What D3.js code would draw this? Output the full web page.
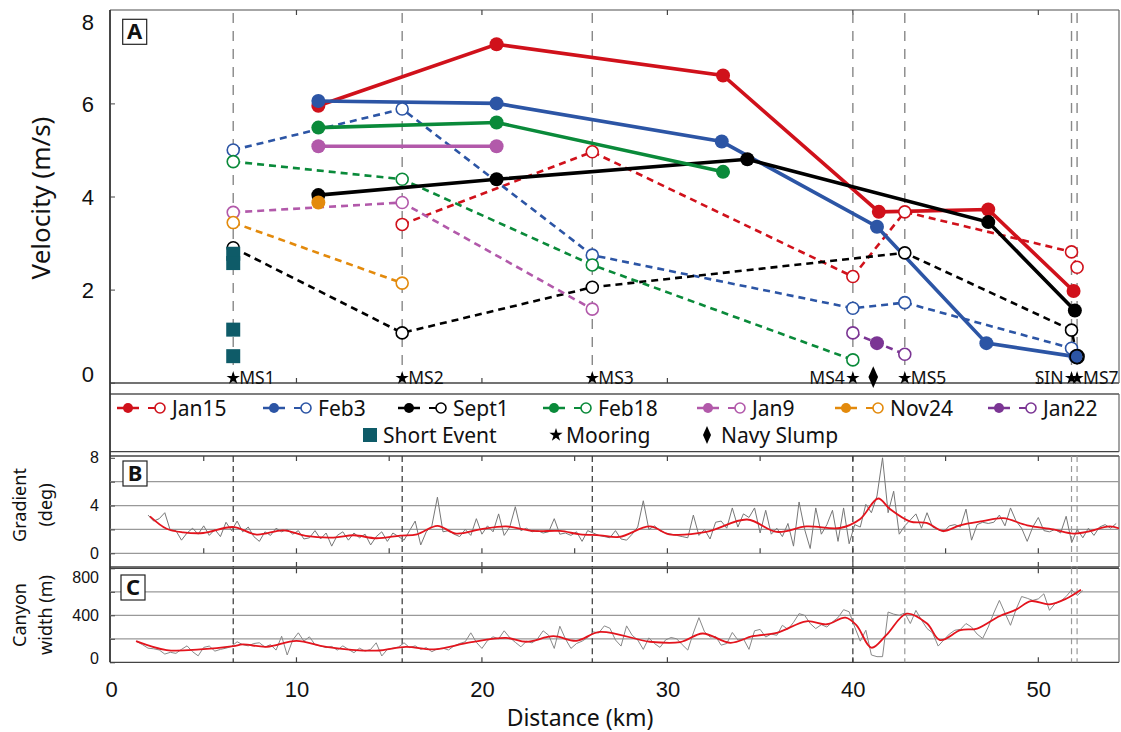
<!DOCTYPE html>
<html>
<head>
<meta charset="utf-8">
<script src="https://cdn.jsdelivr.net/npm/d3@7"></script>
<style>
  body { margin: 0; background: #fff; }
  svg { font-family: "Noto Sans", sans-serif; }
</style>
</head>
<body>
<svg id="chart" width="1121" height="732"></svg>
<script>
// --- moorings along the canyon (km)
const moorings = ["MS1", "MS2", "MS3", "MS4", "MS5", "SIN", "MS7"];
const mooringKm = [6.59, 15.70, 25.95, 40.0, 42.8, 51.79, 52.09];
const navySlumpKm = 41.1;

// --- survey names / colours
const surveys = ["Jan15", "Feb3", "Sept1", "Feb18", "Jan9", "Nov24", "Jan22"];
const surveyColors = ["#d0111b", "#2c55a5", "#000000", "#0a8a3a", "#b259aa", "#e38a0c", "#7b3594"];

// filled markers / solid lines: [km, velocity m/s]
const jan15Solid = [[11.18, 5.95], [20.79, 7.27], [33.0, 6.6], [41.4, 3.67], [47.3, 3.72], [51.9, 1.97]];
const feb3Solid = [[11.18, 6.05], [20.79, 6.0], [32.93, 5.18], [41.3, 3.35], [47.2, 0.85], [52.0, 0.56]];
const sept1Solid = [[11.18, 4.03], [20.79, 4.37], [34.31, 4.8], [47.3, 3.45], [51.97, 1.55]];
const feb18Solid = [[11.18, 5.48], [20.79, 5.59], [33.0, 4.53]];
const jan9Solid = [[11.18, 5.08], [20.79, 5.08]];
const nov24Solid = [[11.18, 3.87]];
const jan22Solid = [[41.3, 0.85]];

// open markers / dashed lines (mooring records): [km, velocity m/s]
const jan15Dashed = [[15.70, 3.40], [25.95, 4.96], [40.0, 2.28], [42.8, 3.67], [51.79, 2.81], [52.09, 2.48]];
const feb3Dashed = [[6.59, 5.0], [15.70, 5.88], [25.95, 2.74], [40.0, 1.60], [42.8, 1.72], [51.79, 0.74]];
const sept1Dashed = [[6.59, 2.9], [15.70, 1.07], [25.95, 2.05], [42.8, 2.79], [51.79, 1.13], [52.09, 0.56]];
const feb18Dashed = [[6.59, 4.75], [15.70, 4.37], [25.95, 2.53], [40.0, 0.49]];
const jan9Dashed = [[6.59, 3.66], [15.70, 3.87], [25.95, 1.58]];
const nov24Dashed = [[6.59, 3.44], [15.70, 2.14]];
const jan22Dashed = [[40.0, 1.07], [42.8, 0.61]];

// short events at MS1
const shortEventVel = [2.77, 2.57, 1.14, 0.57];

// --- panel B: thalweg gradient (deg), sampled every 0.3 km from 2.0 km
const gradStart = 2.0, gradStep = 0.3;
const gradient = [3.2, 2.7, 2.9, 3.4, 1.9, 1.9, 1.1, 1.7, 2.1, 1.6, 2.3, 1.5, 2.0, 1.4, 2.6, 1.9, 2.7, 1.8, 2.2, 1.4,
  1.0, 1.8, 1.5, 2.1, 1.8, 2.0, 1.6, 1.9, 1.2, 1.3, 1.9, 1.2, 1.7, 0.6, 1.5, 1.8, 1.1, 1.7, 1.3, 1.6,
  0.7, 1.4, 1.8, 1.0, 1.7, 1.4, 1.1, 1.9, 2.7, 0.7, 1.8, 2.3, 4.7, 1.8, 1.9, 1.6, 1.4, 2.0, 1.5, 2.9,
  1.6, 2.3, 1.8, 3.3, 1.5, 2.2, 3.9, 1.9, 2.1, 1.8, 1.9, 1.7, 1.8, 2.9, 1.6, 1.7, 1.5, 1.8, 1.0, 1.9,
  1.7, 1.5, 1.4, 1.3, 1.9, 1.2, 1.1, 1.6, 2.2, 4.4, 2.0, 2.3, 1.9, 1.7, 1.6, 1.5, 1.4, 1.3, 3.2, 1.5,
  2.0, 1.2, 2.6, 2.7, 2.1, 3.8, 2.2, 3.3, 3.0, 3.8, 1.7, 3.6, 1.6, 2.1, 1.4, 2.5, 0.6, 4.3, 2.0, 0.4,
  3.8, 1.6, 2.4, 3.6, 1.0, 3.8, 0.8, 2.4, 2.2, 4.1, 3.4, 4.8, 8.0, 3.4, 5.2, 1.6, 2.3, 2.8, 3.3, 2.1,
  3.4, 2.2, 2.0, 1.8, 2.3, 2.4, 2.2, 3.7, 1.1, 2.4, 2.6, 2.5, 2.6, 3.2, 2.3, 3.8, 2.7, 2.1, 1.0, 2.2,
  3.0, 1.9, 1.8, 2.0, 1.7, 3.1, 0.9, 2.0, 1.3, 2.1, 1.5, 2.2, 2.4, 2.1, 2.5];
// smoothed gradient: [km, deg]
const gradientSmooth = [[2.1, 3.1], [3.0, 2.06], [3.9, 1.76], [4.97, 1.7], [6.6, 2.2], [7.85, 1.57], [9.3, 1.92],
  [10.5, 1.46], [12.0, 1.32], [13.1, 1.51], [14.3, 1.26], [15.6, 1.48], [16.5, 1.59], [17.6, 2.3], [18.6, 1.65],
  [19.9, 2.0], [21.3, 2.25], [22.8, 1.87], [24.2, 1.87], [25.3, 1.59], [26.36, 1.51], [27.4, 1.37], [29.06, 2.25],
  [30.1, 1.59], [32.1, 1.79], [34.3, 2.83], [35.9, 1.79], [37.5, 2.25], [39.3, 2.12], [40.4, 2.88], [41.36, 4.59],
  [42.0, 3.71], [43.1, 2.66], [43.97, 2.55], [44.87, 1.87], [45.77, 2.34], [47.0, 2.69], [48.1, 2.94],
  [49.4, 2.34], [50.8, 2.0], [51.9, 1.65], [52.6, 1.79], [53.85, 2.25], [54.4, 2.06]];

// --- panel C: canyon width (m), sampled every 0.3 km from 1.4 km
const widthStart = 1.4, widthStep = 0.3;
const canyonWidth = [175, 150, 120, 115, 105, 70, 85, 76, 110, 140, 90, 55, 127, 138, 95, 110, 120, 135, 175, 150,
  140, 160, 166, 130, 150, 104, 222, 62, 190, 251, 180, 217, 150, 140, 125, 135, 104, 140, 110, 82,
  120, 95, 110, 166, 54, 110, 120, 130, 166, 125, 140, 110, 125, 90, 115, 120, 105, 140, 160, 175,
  251, 170, 118, 185, 217, 200, 268, 210, 170, 132, 180, 165, 200, 268, 230, 118, 307, 200, 118, 160,
  180, 210, 259, 250, 310, 290, 190, 138, 310, 230, 190, 110, 208, 160, 127, 190, 211, 200, 150, 104,
  250, 380, 260, 215, 220, 146, 160, 254, 190, 200, 110, 268, 280, 215, 240, 230, 315, 280, 340, 414,
  400, 330, 287, 320, 300, 344, 380, 448, 430, 300, 180, 273, 62, 48, 48, 428, 410, 400, 420, 330,
  442, 360, 287, 250, 138, 190, 240, 273, 280, 330, 300, 240, 203, 300, 420, 527, 420, 315, 450, 560,
  545, 527, 540, 583, 442, 499, 520, 560, 617, 569, 610];
const widthSmooth = [[1.35, 180], [3.0, 104], [4.8, 110], [6.6, 138], [7.1, 152], [8.4, 132], [10.0, 183],
  [11.6, 132], [14.3, 99], [15.9, 132], [17.4, 110], [19.35, 169], [21.3, 208], [22.4, 175], [23.85, 222],
  [25.1, 183], [26.36, 259], [29.06, 175], [30.7, 172], [31.9, 245], [33.4, 166], [34.6, 222], [35.9, 251],
  [37.5, 349], [38.6, 324], [39.6, 380], [40.2, 315], [41.0, 124], [41.8, 231], [42.9, 414], [44.0, 330],
  [44.7, 189], [45.8, 273], [46.7, 287], [47.9, 392], [48.8, 448], [49.6, 521], [50.6, 493], [51.5, 541], [52.3, 617]];

// ---------------------------------------------------------------
const svg = d3.select("#chart");
const L = 110, R = 1119;
const x = d3.scaleLinear().domain([0, 54.35]).range([111, 1119]);
const yA = d3.scaleLinear().domain([0, 8]).range([382.7, 10.3]);
const yB = d3.scaleLinear().domain([0, 8]).range([553.3, 457.8]);
const yC = d3.scaleLinear().domain([0, 800]).range([662.3, 568.3]);
const A = { top: 10, bottom: 383 }, B = { top: 456, bottom: 567 }, C = { top: 568.3, bottom: 662.3 };

const series = [
  [jan15Solid, jan15Dashed], [feb3Solid, feb3Dashed], [sept1Solid, sept1Dashed], [feb18Solid, feb18Dashed],
  [jan9Solid, jan9Dashed], [nov24Solid, nov24Dashed], [jan22Solid, jan22Dashed]
];

// ---- frames
function frame(p, strokeTop) {
  svg.append("line").attr("x1", L).attr("x2", R).attr("y1", p.top).attr("y2", p.top).attr("stroke", strokeTop).attr("stroke-width", 1.3);
  svg.append("line").attr("x1", L).attr("x2", R).attr("y1", p.bottom).attr("y2", p.bottom).attr("stroke", "#444").attr("stroke-width", 1.3);
  svg.append("line").attr("x1", R).attr("x2", R).attr("y1", p.top).attr("y2", p.bottom).attr("stroke", "#666").attr("stroke-width", 1.2);
}
frame(A, "#888");
frame({ top: 394, bottom: 451.7 }, "#555");
frame(B, "#444");
frame(C, "#444");
svg.append("line").attr("x1", L).attr("x2", L).attr("y1", 10).attr("y2", 662.3).attr("stroke", "#333").attr("stroke-width", 1.8);

// ---- gridlines B, C
[2, 4, 6, 0].forEach(v => svg.append("line").attr("x1", L).attr("x2", R).attr("y1", yB(v)).attr("y2", yB(v)).attr("stroke", "#999").attr("stroke-width", 1.2));
[200, 400, 600].forEach(v => svg.append("line").attr("x1", L).attr("x2", R).attr("y1", yC(v)).attr("y2", yC(v)).attr("stroke", "#999").attr("stroke-width", 1.2));

// ---- x ticks (inward)
function xTicks(vals, y0, dir) {
  svg.append("g").selectAll("line").data(vals).join("line")
    .attr("x1", d => x(d)).attr("x2", d => x(d)).attr("y1", y0).attr("y2", y0 + dir * 5)
    .attr("stroke", "#444").attr("stroke-width", 1.2);
}
const tens = [10, 20, 30, 40, 50], fives = [5, 10, 15, 20, 25, 30, 35, 40, 45, 50];
xTicks(tens, A.top, 1); xTicks(tens, A.bottom, -1);
xTicks(fives, B.top, 1); xTicks(fives, yB(0), -1); xTicks(tens, B.bottom, -1);
xTicks(tens, C.top, 1); xTicks(tens, C.bottom, -1);

// ---- y axes
const axA = svg.append("g").attr("transform", `translate(${L},0)`)
  .call(d3.axisLeft(yA).tickValues([0, 2, 4, 6, 8]).tickSize(-5).tickPadding(16));
axA.select(".domain").remove();
axA.selectAll("line").attr("stroke", "#444");
axA.selectAll("text").attr("font-size", 22).attr("fill", "#111")
  .attr("dy", d => d === 8 ? "0.85em" : d === 0 ? "-0.05em" : "0.35em");
axA.selectAll(".tick").filter(d => d === 8).select("line").remove();

const axB = svg.append("g").attr("transform", `translate(${L},0)`)
  .call(d3.axisLeft(yB).tickValues([0, 2, 4, 6, 8]).tickSize(-5).tickPadding(11).tickFormat(d => d % 4 === 0 ? d : ""));
axB.select(".domain").remove();
axB.selectAll("line").attr("stroke", "#444");
axB.selectAll("text").attr("font-size", 16).attr("fill", "#111");

const axC = svg.append("g").attr("transform", `translate(${L},0)`)
  .call(d3.axisLeft(yC).tickValues([0, 200, 400, 600, 800]).tickSize(-5).tickPadding(11).tickFormat(d => d % 400 === 0 ? d : ""));
axC.select(".domain").remove();
axC.selectAll("line").attr("stroke", "#444");
axC.selectAll("text").attr("font-size", 16).attr("fill", "#111")
  .attr("dy", d => d === 800 ? "0.9em" : d === 0 ? "0.1em" : "0.35em");

const axX = svg.append("g").attr("transform", `translate(0,681)`)
  .call(d3.axisBottom(x).tickValues([0, 10, 20, 30, 40, 50]).tickSize(0).tickPadding(0));
axX.select(".domain").remove();
axX.selectAll("text").attr("font-size", 22).attr("fill", "#111");

// ---- axis titles
svg.append("text").attr("transform", "translate(50,198) rotate(-90)").attr("text-anchor", "middle")
  .attr("font-size", 26).attr("fill", "#111").text("Velocity (m/s)");
svg.append("text").attr("transform", "translate(26,505) rotate(-90)").attr("text-anchor", "middle")
  .attr("font-size", 18).attr("fill", "#111").text("Gradient");
svg.append("text").attr("transform", "translate(52,505) rotate(-90)").attr("text-anchor", "middle")
  .attr("font-size", 18).attr("fill", "#111").text("(deg)");
svg.append("text").attr("transform", "translate(26,615) rotate(-90)").attr("text-anchor", "middle")
  .attr("font-size", 18).attr("fill", "#111").text("Canyon");
svg.append("text").attr("transform", "translate(52,615) rotate(-90)").attr("text-anchor", "middle")
  .attr("font-size", 18).attr("fill", "#111").text("width (m)");
svg.append("text").attr("x", 580).attr("y", 726).attr("text-anchor", "middle")
  .attr("font-size", 23).attr("fill", "#111").text("Distance (km)");

// ---- mooring dashed verticals
mooringKm.forEach((km, i) => {
  svg.append("line").attr("x1", x(km)).attr("x2", x(km)).attr("y1", A.top + 3).attr("y2", A.bottom)
    .attr("stroke", "#888").attr("stroke-width", 1.4).attr("stroke-dasharray", "10,8");
  const dark = i <= 3;
  [B, C].forEach(p => svg.append("line").attr("x1", x(km)).attr("x2", x(km)).attr("y1", p.top).attr("y2", p.bottom)
    .attr("stroke", dark ? "#333" : "#999").attr("stroke-width", 1.2).attr("stroke-dasharray", "6,4"));
});

// ---- panel A lines
const lineA = d3.line().x(d => x(d[0])).y(d => yA(d[1]));
series.forEach(([solid, dashed], i) => {
  if (dashed.length > 1) svg.append("path").attr("d", lineA(dashed)).attr("fill", "none")
    .attr("stroke", surveyColors[i]).attr("stroke-width", 2.6).attr("stroke-dasharray", "7,5");
});
series.forEach(([solid, dashed], i) => {
  if (solid.length > 1) svg.append("path").attr("d", lineA(solid)).attr("fill", "none")
    .attr("stroke", surveyColors[i]).attr("stroke-width", 3.6);
});
series.forEach(([solid, dashed], i) => {
  svg.append("g").selectAll("circle").data(dashed).join("circle")
    .attr("cx", d => x(d[0])).attr("cy", d => yA(d[1])).attr("r", 6)
    .attr("fill", "#fff").attr("stroke", surveyColors[i]).attr("stroke-width", 1.6);
});
series.forEach(([solid, dashed], i) => {
  svg.append("g").selectAll("circle").data(solid).join("circle")
    .attr("cx", d => x(d[0])).attr("cy", d => yA(d[1])).attr("r", 7)
    .attr("fill", surveyColors[i]);
});
// black open ring around Feb3 end at MS7
svg.append("circle").attr("cx", x(sept1Dashed[5][0])).attr("cy", yA(sept1Dashed[5][1])).attr("r", 7)
  .attr("fill", "none").attr("stroke", "#000").attr("stroke-width", 1.6);

// short events
svg.append("g").selectAll("rect").data(shortEventVel).join("rect")
  .attr("x", x(mooringKm[0]) - 7).attr("y", d => yA(d) - 7).attr("width", 14).attr("height", 14)
  .attr("fill", "#0e5b68");

// moorings stars + labels
const star = d3.symbol().type(d3.symbolStar).size(55);
mooringKm.forEach((km, i) => {
  svg.append("path").attr("d", star()).attr("transform", `translate(${x(km)},${yA(0.1)})`).attr("fill", "#000");
  const left = moorings[i] === "MS4" || moorings[i] === "SIN";
  svg.append("text").attr("x", x(km) + (left ? -8 : 6)).attr("y", 384)
    .attr("text-anchor", left ? "end" : "start").attr("font-size", 17.5).attr("fill", "#111").text(moorings[i]);
});
svg.append("path").attr("d", d3.symbol().type(d3.symbolDiamond).size(80)())
  .attr("transform", `translate(${x(navySlumpKm)},${yA(0.12)}) scale(1,1.3)`).attr("fill", "#000");

// ---- panel labels
[["A", 122.7, 19.3], ["B", 123, 461], ["C", 121, 575]].forEach(([t, bx, by]) => {
  svg.append("rect").attr("x", bx).attr("y", by).attr("width", 24).attr("height", 25)
    .attr("fill", "#fff").attr("stroke", "#222").attr("stroke-width", 1.2);
  svg.append("text").attr("x", bx + 12).attr("y", by + 20).attr("text-anchor", "middle")
    .attr("font-size", 22).attr("font-weight", "bold").attr("fill", "#111").text(t);
});

// ---- legend
const legendTextX = [172, 318, 453, 598, 752, 890, 1043];
surveys.forEach((name, i) => {
  const tx = legendTextX[i], cy = 408, c = surveyColors[i];
  const g = svg.append("g");
  g.append("line").attr("x1", tx - 55).attr("x2", tx - 33).attr("y1", cy).attr("y2", cy).attr("stroke", c).attr("stroke-width", 2.5);
  g.append("circle").attr("cx", tx - 44).attr("cy", cy).attr("r", 5).attr("fill", c);
  g.append("line").attr("x1", tx - 24).attr("x2", tx - 17).attr("y1", cy).attr("y2", cy).attr("stroke", c).attr("stroke-width", 2);
  g.append("circle").attr("cx", tx - 12).attr("cy", cy).attr("r", 5).attr("fill", "#fff").attr("stroke", c).attr("stroke-width", 1.6);
  g.append("text").attr("x", tx).attr("y", cy + 7.5).attr("font-size", 21).attr("fill", "#111").text(name);
});
svg.append("rect").attr("x", 363).attr("y", 428).attr("width", 14).attr("height", 14).attr("fill", "#0e5b68");
svg.append("text").attr("x", 383).attr("y", 442.5).attr("font-size", 21).attr("fill", "#111").text("Short Event");
svg.append("path").attr("d", d3.symbol().type(d3.symbolStar).size(55)()).attr("transform", "translate(556,435)").attr("fill", "#000");
svg.append("text").attr("x", 566).attr("y", 442.5).attr("font-size", 21).attr("fill", "#111").text("Mooring");
svg.append("path").attr("d", d3.symbol().type(d3.symbolDiamond).size(55)()).attr("transform", "translate(707,435) scale(1,1.3)").attr("fill", "#000");
svg.append("text").attr("x", 721).attr("y", 442.5).attr("font-size", 21).attr("fill", "#111").text("Navy Slump");

// ---- panel B and C profiles
svg.append("clipPath").attr("id", "clipB").append("rect").attr("x", L).attr("y", B.top).attr("width", R - L).attr("height", B.bottom - B.top);
svg.append("clipPath").attr("id", "clipC").append("rect").attr("x", L).attr("y", C.top).attr("width", R - L).attr("height", C.bottom - C.top);

const lineB = d3.line().x((d, i) => x(gradStart + i * gradStep)).y(d => yB(d));
svg.append("path").attr("clip-path", "url(#clipB)").attr("d", lineB(gradient)).attr("fill", "none").attr("stroke", "#777").attr("stroke-width", 1);
svg.append("path").attr("clip-path", "url(#clipB)")
  .attr("d", d3.line().curve(d3.curveCatmullRom).x(d => x(d[0])).y(d => yB(d[1]))(gradientSmooth))
  .attr("fill", "none").attr("stroke", "#e3141d").attr("stroke-width", 1.8);

const lineC = d3.line().x((d, i) => x(widthStart + i * widthStep)).y(d => yC(d));
svg.append("path").attr("clip-path", "url(#clipC)").attr("d", lineC(canyonWidth)).attr("fill", "none").attr("stroke", "#888").attr("stroke-width", 1);
svg.append("path").attr("clip-path", "url(#clipC)")
  .attr("d", d3.line().curve(d3.curveCatmullRom).x(d => x(d[0])).y(d => yC(d[1]))(widthSmooth))
  .attr("fill", "none").attr("stroke", "#e3141d").attr("stroke-width", 1.8);
</script>
</body>
</html>
